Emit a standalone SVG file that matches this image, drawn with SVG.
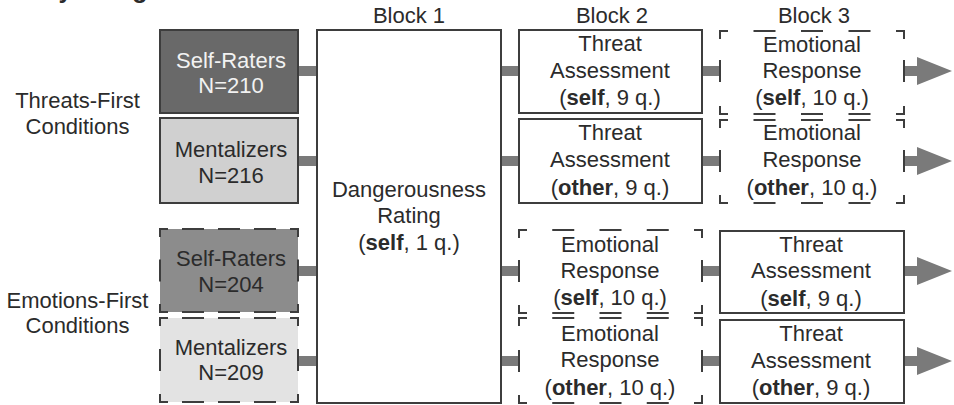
<svg xmlns="http://www.w3.org/2000/svg" width="954" height="405" viewBox="0 0 954 405">
<style>
text{font-family:"Liberation Sans",Arial,Helvetica,sans-serif;font-size:22px;fill:#2b2b2b;text-anchor:middle}
.b{font-weight:bold}
.lt{fill:#f2f2f2}
.solid{stroke:#3d3d3d;stroke-width:2}
.dash{fill:none;stroke:#3d3d3d;stroke-width:2;stroke-linecap:butt;stroke-linejoin:miter}
.bar{stroke:#7a7a7a;stroke-width:10;fill:none}
.wb{fill:#ffffff}
</style>
<defs>
<marker id="arr" markerUnits="userSpaceOnUse" markerWidth="37" markerHeight="28" refX="2" refY="14" orient="auto">
<path d="M0,0 L35,14 L0,28 z" fill="#7a7a7a"/>
</marker>
</defs>
<rect width="954" height="405" fill="#ffffff"/>
<text x="3" y="-2" class="b" style="text-anchor:start;font-size:25px">Study Design</text>

<g id="labels">
<text x="409" y="23">Block 1</text>
<text x="612" y="23">Block 2</text>
<text x="814" y="23">Block 3</text>
<text x="77.5" y="108">Threats-First</text>
<text x="77.5" y="134">Conditions</text>
<text x="77.5" y="308">Emotions-First</text>
<text x="77.5" y="333">Conditions</text>
</g>

<g id="connectors">
<line class="bar" x1="298" y1="71" x2="317" y2="71"/>
<line class="bar" x1="298" y1="161" x2="317" y2="161"/>
<line class="bar" x1="298" y1="271" x2="317" y2="271"/>
<line class="bar" x1="298" y1="361" x2="317" y2="361"/>
<line class="bar" x1="501" y1="71" x2="519" y2="71"/>
<line class="bar" x1="501" y1="161" x2="519" y2="161"/>
<line class="bar" x1="501" y1="271" x2="519" y2="271"/>
<line class="bar" x1="501" y1="361" x2="519" y2="361"/>
<line class="bar" x1="702" y1="71" x2="720" y2="71"/>
<line class="bar" x1="702" y1="161" x2="720" y2="161"/>
<line class="bar" x1="702" y1="271" x2="720" y2="271"/>
<line class="bar" x1="702" y1="361" x2="720" y2="361"/>
<line class="bar" x1="904" y1="71" x2="919" y2="71" marker-end="url(#arr)"/>
<line class="bar" x1="904" y1="161" x2="919" y2="161" marker-end="url(#arr)"/>
<line class="bar" x1="904" y1="271" x2="919" y2="271" marker-end="url(#arr)"/>
<line class="bar" x1="904" y1="361" x2="919" y2="361" marker-end="url(#arr)"/>
</g>

<g id="selfraters-tf">
<rect class="solid" x="160" y="30" width="138" height="83" fill="#696969"/>
<text class="lt" x="231" y="68">Self-Raters</text>
<text class="lt" x="231" y="93">N=210</text>
</g>
<g id="mentalizers-tf">
<rect class="solid" x="160" y="118" width="138" height="85" fill="#d0d0d0"/>
<text x="231" y="157">Mentalizers</text>
<text x="231" y="183">N=216</text>
</g>
<g id="selfraters-ef">
<rect x="160" y="229" width="138" height="83" fill="#8c8c8c"/>
<path class="dash" d="M160,237 V229 H168 M182,229 h22 M218,229 h22 M254,229 h22 M290,229 H298 V237 M298,304 V312 H290 M182,312 h22 M218,312 h22 M254,312 h22 M168,312 H160 V304 M160,259.5 v22 M298,259.5 v22"/>
<text x="231" y="266">Self-Raters</text>
<text x="231" y="292">N=204</text>
</g>
<g id="mentalizers-ef">
<rect x="160" y="318" width="138" height="84" fill="#e3e3e3"/>
<path class="dash" d="M160,326 V318 H168 M182,318 h22 M218,318 h22 M254,318 h22 M290,318 H298 V326 M298,394 V402 H290 M182,402 h22 M218,402 h22 M254,402 h22 M168,402 H160 V394 M160,349 v22 M298,349 v22"/>
<text x="231" y="355">Mentalizers</text>
<text x="231" y="380">N=209</text>
</g>

<g id="block1">
<rect class="solid wb" x="317" y="30" width="184" height="373"/>
<text x="409" y="197">Dangerousness</text>
<text x="409" y="223">Rating</text>
<text x="409" y="250">(<tspan class="b">self</tspan>, 1 q.)</text>
</g>

<g id="b2-threat-self">
<rect class="solid wb" x="519" y="30" width="183" height="83"/>
<text x="610" y="51">Threat</text>
<text x="610" y="78">Assessment</text>
<text x="610" y="105">(<tspan class="b">self</tspan>, 9 q.)</text>
</g>
<g id="b2-threat-other">
<rect class="solid wb" x="519" y="119" width="183" height="84"/>
<text x="610" y="140">Threat</text>
<text x="610" y="167">Assessment</text>
<text x="610" y="195">(<tspan class="b">other</tspan>, 9 q.)</text>
</g>
<g id="b2-emo-self">
<path class="dash" d="M519,238 V230 H527 M552.25,230 h22 M599.5,230 h22 M646.75,230 h22 M694,230 H702 V238 M702,305 V313 H694 M552.25,313 h22 M599.5,313 h22 M646.75,313 h22 M527,313 H519 V305 M519,260 v22 M702,260 v22"/>
<text x="610" y="252">Emotional</text>
<text x="610" y="278">Response</text>
<text x="610" y="305">(<tspan class="b">self</tspan>, 10 q.)</text>
</g>
<g id="b2-emo-other">
<path class="dash" d="M519,326 V318 H527 M552.25,318 h22 M599.5,318 h22 M646.75,318 h22 M694,318 H702 V326 M702,395 V403 H694 M552.25,403 h22 M599.5,403 h22 M646.75,403 h22 M527,403 H519 V395 M519,350 v22 M702,350 v22"/>
<text x="610" y="341">Emotional</text>
<text x="610" y="367">Response</text>
<text x="610" y="395">(<tspan class="b">other</tspan>, 10 q.)</text>
</g>

<g id="b3-emo-self">
<path class="dash" d="M720,39 V31 H728 M753.5,31 h22 M801,31 h22 M848.5,31 h22 M896,31 H904 V39 M904,106 V114 H896 M753.5,114 h22 M801,114 h22 M848.5,114 h22 M728,114 H720 V106 M720,60 v22 M904,60 v22"/>
<text x="812" y="52">Emotional</text>
<text x="812" y="78">Response</text>
<text x="812" y="105">(<tspan class="b">self</tspan>, 10 q.)</text>
</g>
<g id="b3-emo-other">
<path class="dash" d="M720,128 V120 H728 M753.5,120 h22 M801,120 h22 M848.5,120 h22 M896,120 H904 V128 M904,195 V203 H896 M753.5,203 h22 M801,203 h22 M848.5,203 h22 M728,203 H720 V195 M720,150 v22 M904,150 v22"/>
<text x="812" y="140">Emotional</text>
<text x="812" y="167">Response</text>
<text x="812" y="195">(<tspan class="b">other</tspan>, 10 q.)</text>
</g>
<g id="b3-threat-self">
<rect class="solid wb" x="720" y="231" width="184" height="82"/>
<text x="811" y="252">Threat</text>
<text x="811" y="278">Assessment</text>
<text x="811" y="306">(<tspan class="b">self</tspan>, 9 q.)</text>
</g>
<g id="b3-threat-other">
<rect class="solid wb" x="720" y="320" width="184" height="83"/>
<text x="811" y="341">Threat</text>
<text x="811" y="368">Assessment</text>
<text x="811" y="395">(<tspan class="b">other</tspan>, 9 q.)</text>
</g>
</svg>
